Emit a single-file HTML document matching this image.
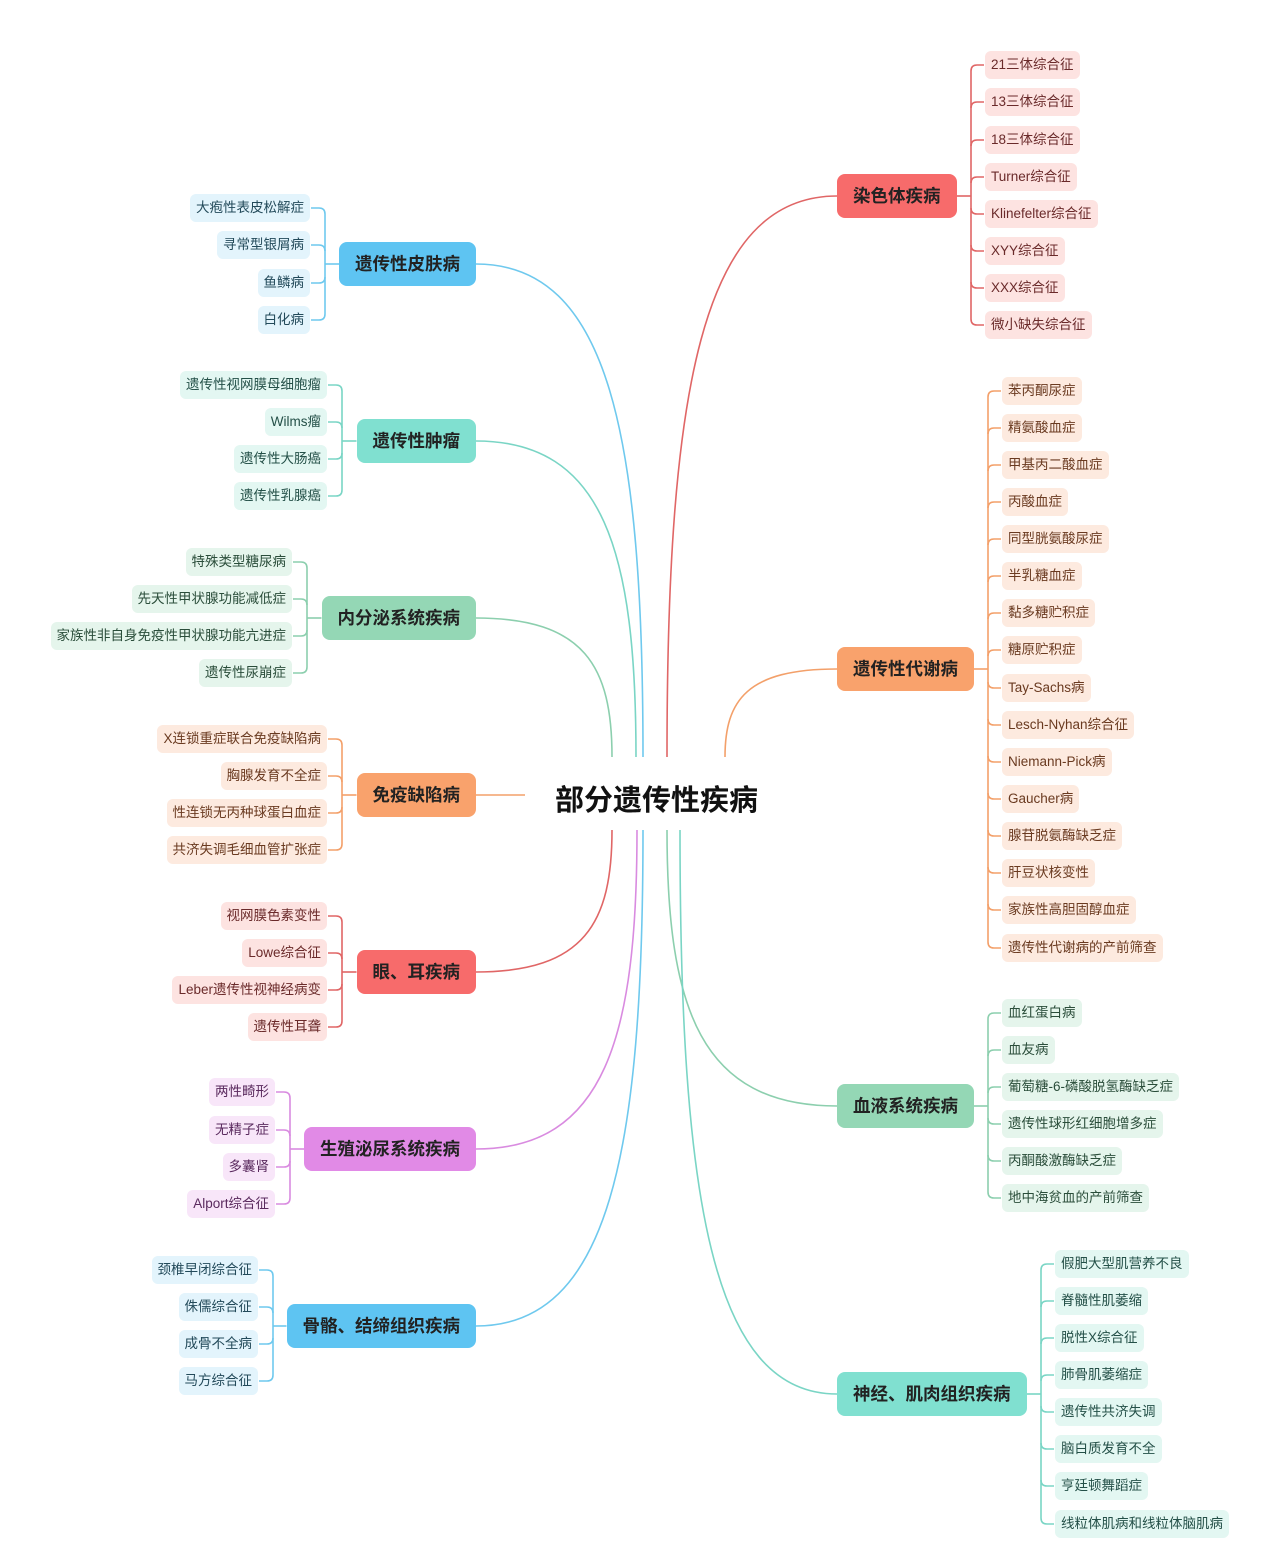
<!DOCTYPE html>
<html><head><meta charset="utf-8">
<style>
*{margin:0;padding:0;box-sizing:border-box}
body{width:1271px;height:1543px;position:relative;background:#fff;font-family:"Liberation Sans","Noto Sans CJK SC",sans-serif;overflow:hidden}
svg{position:absolute;left:0;top:0}
.m{position:absolute;height:44px;line-height:44px;border-radius:8px;font-size:17.5px;font-weight:bold;color:#222;padding:0 16px;white-space:nowrap}
.k{position:absolute;height:28px;line-height:28px;border-radius:6px;font-size:13.5px;padding:0 6px;white-space:nowrap}
.red .m{background:#f76b6b}.red .k{background:#fde3e1;color:#6a2a2a}
.ora .m{background:#f9a26c}.ora .k{background:#fdeadf;color:#6a3a20}
.blu .m{background:#5ec4f2}.blu .k{background:#e3f4fc;color:#234a5a}
.tea .m{background:#80e0d0}.tea .k{background:#e3f7f2;color:#245048}
.gre .m{background:#94d7b5}.gre .k{background:#e5f5ec;color:#2a4d3a}
.pur .m{background:#e18ae6}.pur .k{background:#f8e6f9;color:#5a2a5e}
.c{position:absolute;left:555px;top:777px;font-size:29px;font-weight:bold;color:#111;white-space:nowrap}
</style></head><body>
<svg id="s" width="1271" height="1543"></svg>
<div class="c">部分遗传性疾病</div>

<div class="g L blu" style="--l:#6fc9ee;--sx:643;--ny:264">
<div class="m" style="right:795px;top:242px">遗传性皮肤病</div>
<div class="k" style="right:961px;top:194px">大疱性表皮松解症</div>
<div class="k" style="right:961px;top:231px">寻常型银屑病</div>
<div class="k" style="right:961px;top:269px">鱼鳞病</div>
<div class="k" style="right:961px;top:306px">白化病</div>
</div>

<div class="g L tea" style="--l:#7ad5c5;--sx:636;--ny:441">
<div class="m" style="right:795px;top:419px">遗传性肿瘤</div>
<div class="k" style="right:944px;top:371px">遗传性视网膜母细胞瘤</div>
<div class="k" style="right:944px;top:408px">Wilms瘤</div>
<div class="k" style="right:944px;top:445px">遗传性大肠癌</div>
<div class="k" style="right:944px;top:482px">遗传性乳腺癌</div>
</div>

<div class="g L gre" style="--l:#8ccfae;--sx:612;--ny:618">
<div class="m" style="right:795px;top:596px">内分泌系统疾病</div>
<div class="k" style="right:979px;top:548px">特殊类型糖尿病</div>
<div class="k" style="right:979px;top:585px">先天性甲状腺功能减低症</div>
<div class="k" style="right:979px;top:622px">家族性非自身免疫性甲状腺功能亢进症</div>
<div class="k" style="right:979px;top:659px">遗传性尿崩症</div>
</div>

<div class="g L ora" style="--l:#f3a06a;--sx:0;--ny:795">
<div class="m" style="right:795px;top:773px">免疫缺陷病</div>
<div class="k" style="right:944px;top:725px">X连锁重症联合免疫缺陷病</div>
<div class="k" style="right:944px;top:762px">胸腺发育不全症</div>
<div class="k" style="right:944px;top:799px">性连锁无丙种球蛋白血症</div>
<div class="k" style="right:944px;top:836px">共济失调毛细血管扩张症</div>
</div>

<div class="g L red" style="--l:#e06666;--sx:612;--ny:972">
<div class="m" style="right:795px;top:950px">眼、耳疾病</div>
<div class="k" style="right:944px;top:902px">视网膜色素变性</div>
<div class="k" style="right:944px;top:939px">Lowe综合征</div>
<div class="k" style="right:944px;top:976px">Leber遗传性视神经病变</div>
<div class="k" style="right:944px;top:1013px">遗传性耳聋</div>
</div>

<div class="g L pur" style="--l:#d98be0;--sx:637;--ny:1149">
<div class="m" style="right:795px;top:1127px">生殖泌尿系统疾病</div>
<div class="k" style="right:996px;top:1078px">两性畸形</div>
<div class="k" style="right:996px;top:1116px">无精子症</div>
<div class="k" style="right:996px;top:1153px">多囊肾</div>
<div class="k" style="right:996px;top:1190px">Alport综合征</div>
</div>

<div class="g L blu" style="--l:#6fc9ee;--sx:643;--ny:1326">
<div class="m" style="right:795px;top:1304px">骨骼、结缔组织疾病</div>
<div class="k" style="right:1013px;top:1256px">颈椎早闭综合征</div>
<div class="k" style="right:1013px;top:1293px">侏儒综合征</div>
<div class="k" style="right:1013px;top:1330px">成骨不全病</div>
<div class="k" style="right:1013px;top:1367px">马方综合征</div>
</div>

<div class="g R red" style="--l:#e06666;--sx:667;--ny:196">
<div class="m" style="left:837px;top:174px">染色体疾病</div>
<div class="k" style="left:985px;top:51px">21三体综合征</div>
<div class="k" style="left:985px;top:88px">13三体综合征</div>
<div class="k" style="left:985px;top:126px">18三体综合征</div>
<div class="k" style="left:985px;top:163px">Turner综合征</div>
<div class="k" style="left:985px;top:200px">Klinefelter综合征</div>
<div class="k" style="left:985px;top:237px">XYY综合征</div>
<div class="k" style="left:985px;top:274px">XXX综合征</div>
<div class="k" style="left:985px;top:311px">微小缺失综合征</div>
</div>

<div class="g R ora" style="--l:#f3a06a;--sx:725;--ny:669">
<div class="m" style="left:837px;top:647px">遗传性代谢病</div>
<div class="k" style="left:1002px;top:377px">苯丙酮尿症</div>
<div class="k" style="left:1002px;top:414px">精氨酸血症</div>
<div class="k" style="left:1002px;top:451px">甲基丙二酸血症</div>
<div class="k" style="left:1002px;top:488px">丙酸血症</div>
<div class="k" style="left:1002px;top:525px">同型胱氨酸尿症</div>
<div class="k" style="left:1002px;top:562px">半乳糖血症</div>
<div class="k" style="left:1002px;top:599px">黏多糖贮积症</div>
<div class="k" style="left:1002px;top:636px">糖原贮积症</div>
<div class="k" style="left:1002px;top:674px">Tay-Sachs病</div>
<div class="k" style="left:1002px;top:711px">Lesch-Nyhan综合征</div>
<div class="k" style="left:1002px;top:748px">Niemann-Pick病</div>
<div class="k" style="left:1002px;top:785px">Gaucher病</div>
<div class="k" style="left:1002px;top:822px">腺苷脱氨酶缺乏症</div>
<div class="k" style="left:1002px;top:859px">肝豆状核变性</div>
<div class="k" style="left:1002px;top:896px">家族性高胆固醇血症</div>
<div class="k" style="left:1002px;top:934px">遗传性代谢病的产前筛查</div>
</div>

<div class="g R gre" style="--l:#8ccfae;--sx:667;--ny:1106">
<div class="m" style="left:837px;top:1084px">血液系统疾病</div>
<div class="k" style="left:1002px;top:999px">血红蛋白病</div>
<div class="k" style="left:1002px;top:1036px">血友病</div>
<div class="k" style="left:1002px;top:1073px">葡萄糖-6-磷酸脱氢酶缺乏症</div>
<div class="k" style="left:1002px;top:1110px">遗传性球形红细胞增多症</div>
<div class="k" style="left:1002px;top:1147px">丙酮酸激酶缺乏症</div>
<div class="k" style="left:1002px;top:1184px">地中海贫血的产前筛查</div>
</div>

<div class="g R tea" style="--l:#7ad5c5;--sx:680;--ny:1394">
<div class="m" style="left:837px;top:1372px">神经、肌肉组织疾病</div>
<div class="k" style="left:1055px;top:1250px">假肥大型肌营养不良</div>
<div class="k" style="left:1055px;top:1287px">脊髓性肌萎缩</div>
<div class="k" style="left:1055px;top:1324px">脱性X综合征</div>
<div class="k" style="left:1055px;top:1361px">肺骨肌萎缩症</div>
<div class="k" style="left:1055px;top:1398px">遗传性共济失调</div>
<div class="k" style="left:1055px;top:1435px">脑白质发育不全</div>
<div class="k" style="left:1055px;top:1472px">亨廷顿舞蹈症</div>
<div class="k" style="left:1055px;top:1510px">线粒体肌病和线粒体脑肌病</div>
</div>

<script>
var s=document.getElementById('s'),out='';
function P(d,c){out+='<path d="'+d+'" fill="none" stroke="'+c+'" stroke-width="1.6"/>';}
document.querySelectorAll('.g').forEach(function(g){
 var L=g.classList.contains('L'),cs=getComputedStyle(g),c=cs.getPropertyValue('--l').trim(),
 sx=+cs.getPropertyValue('--sx'),ny=+cs.getPropertyValue('--ny');
 var m=g.querySelector('.m').getBoundingClientRect();
 var ks=[].slice.call(g.querySelectorAll('.k')).map(function(k){return k.getBoundingClientRect();});
 var ys=ks.map(function(r){return r.top+r.height/2;});
 var y0=ys[0],y1=ys[ys.length-1],r=6;
 if(L){
  var ex=ks[0].right,bx=ex+15;
  ks.forEach(function(k){var y=k.top+14;if(y<ny-r)P('M'+(k.right+1)+' '+y+' H'+(bx-r)+' Q'+bx+' '+y+' '+bx+' '+(y+r),c);else if(y>ny+r)P('M'+(k.right+1)+' '+y+' H'+(bx-r)+' Q'+bx+' '+y+' '+bx+' '+(y-r),c);else P('M'+(k.right+1)+' '+y+' H'+bx,c);});
  P('M'+bx+' '+(y0+r)+' V'+(y1-r),c);
  P('M'+bx+' '+ny+' H'+m.left,c);
  var nx=m.right;
  if(!sx)P('M'+nx+' '+ny+' H525',c);
  else{var sy=ny<796?757:830;P('M'+nx+' '+ny+' C'+(nx+(sx-nx)*0.8)+' '+ny+' '+sx+' '+(ny+(sy-ny)*0.35)+' '+sx+' '+sy,c);}
 }else{
  var bx=ks[0].left-14;
  ks.forEach(function(k){var y=k.top+14;if(y<ny-r)P('M'+(k.left-1)+' '+y+' H'+(bx+r)+' Q'+bx+' '+y+' '+bx+' '+(y+r),c);else if(y>ny+r)P('M'+(k.left-1)+' '+y+' H'+(bx+r)+' Q'+bx+' '+y+' '+bx+' '+(y-r),c);else P('M'+(k.left-1)+' '+y+' H'+bx,c);});
  P('M'+bx+' '+(y0+r)+' V'+(y1-r),c);
  P('M'+m.right+' '+ny+' H'+bx,c);
  var nx=m.left,sy=ny<796?757:830;
  P('M'+nx+' '+ny+' C'+(nx-(nx-sx)*0.8)+' '+ny+' '+sx+' '+(ny+(sy-ny)*0.35)+' '+sx+' '+sy,c);
 }
});
s.innerHTML=out;
</script>
</body></html>
